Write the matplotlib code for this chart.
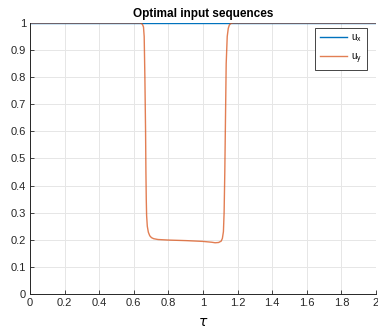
import numpy as np
import matplotlib.pyplot as plt

# ----------------------------
# DATA
# ----------------------------
tau_x = [0.0, 2.0]
u_x = [1.0, 1.0]

tau_y = [0.0, 0.60, 0.640, 0.650, 0.656, 0.660, 0.664, 0.668, 0.670, 0.672,
         0.674, 0.678, 0.684, 0.692, 0.702, 0.715, 0.740, 0.800, 0.900, 1.000,
         1.050, 1.070, 1.090, 1.105, 1.112, 1.118, 1.122, 1.126, 1.130, 1.134,
         1.140, 1.146, 1.152, 1.160, 1.175, 1.25, 2.0]
u_y = [1.0, 1.0, 1.0, 0.995, 0.985, 0.95, 0.80, 0.60, 0.45, 0.35,
       0.29, 0.25, 0.228, 0.215, 0.208, 0.204, 0.201, 0.199, 0.197, 0.194,
       0.191, 0.189, 0.190, 0.195, 0.205, 0.23, 0.30, 0.45, 0.65, 0.85,
       0.95, 0.98, 0.992, 0.998, 1.0, 1.0, 1.0]

BLUE = "#0072BD"
ORANGE = "#D95319"

plt.rcParams["font.family"] = ["Liberation Sans", "DejaVu Sans"]

fig = plt.figure(figsize=(3.78, 3.34), dpi=100)
ax = fig.add_axes([0.0794, 0.1198, 0.9153, 0.8114])

ax.plot(tau_x, u_x, color=BLUE, lw=1.0, label=r"u$_\mathregular{x}$")
ax.plot(tau_y, u_y, color=ORANGE, lw=1.0, alpha=0.75, label=r"u$_\mathregular{y}$")

ax.set_xlim(0, 2)
ax.set_ylim(0, 1)
ax.set_xticks(np.arange(0, 2.01, 0.2))
ax.set_xticklabels(["0", "0.2", "0.4", "0.6", "0.8", "1", "1.2", "1.4", "1.6", "1.8", "2"])
ax.set_yticks(np.arange(0, 1.01, 0.1))
ax.set_yticklabels(["0", "0.1", "0.2", "0.3", "0.4", "0.5", "0.6", "0.7", "0.8", "0.9", "1"])
ax.tick_params(direction="in", length=3, width=0.6, labelsize=8, colors="#262626", pad=3)

ax.grid(True, color="#e6e6e6", lw=0.7)
ax.set_axisbelow(True)
for s in ["top", "right"]:
    ax.spines[s].set_visible(False)
for s in ["left", "bottom"]:
    ax.spines[s].set_color("#262626")
    ax.spines[s].set_linewidth(0.7)

ax.set_title("Optimal input sequences", fontsize=8.5, fontweight="bold", pad=4)
ax.set_xlabel(r"$\tau$", fontsize=10, labelpad=5)

leg = ax.legend(loc="upper right", bbox_to_anchor=(0.98, 0.99), fontsize=7,
                fancybox=False, framealpha=1, edgecolor="#262626",
                handlelength=2.8, handletextpad=0.4, borderpad=0.5,
                labelspacing=0.7, borderaxespad=0.2)
leg.get_frame().set_linewidth(0.6)

fig.savefig("out.png", dpi=100)
